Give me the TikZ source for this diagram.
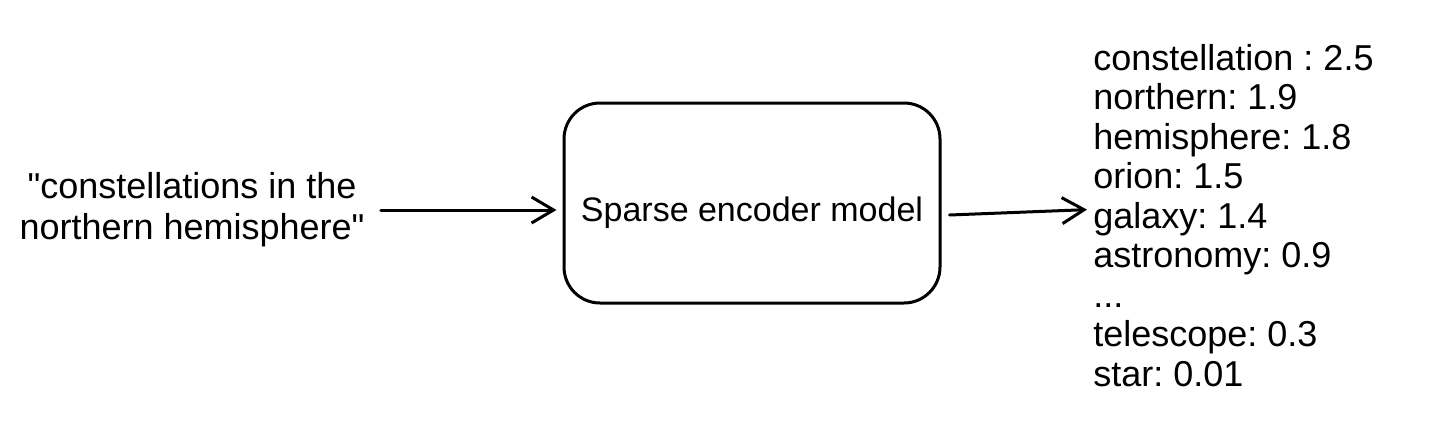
\documentclass[tikz,border=0pt]{standalone}
\usepackage{fontspec}
\newfontfamily\hand{Liberation Sans}
\usetikzlibrary{arrows.meta}
\begin{document}
\frenchspacing
\begin{tikzpicture}[x=0.5pt,y=-0.5pt,
  txt/.style={font=\hand\fontsize{18}{19.75}\selectfont, inner sep=0pt},
  boxtxt/.style={font=\hand\fontsize{17}{19.75}\selectfont, inner sep=0pt},
  arr/.style={line width=1.5pt, line cap=round, -{Straight Barb[length=11pt,width=13pt,line width=1.5pt]}},
  box/.style={draw, line width=1.5pt, rounded corners=18pt, minimum width=188pt, minimum height=100pt}]
\useasboundingbox (0,0) rectangle (1440,424);
\node[txt, align=center, font=\hand\fontsize{18}{20.5}\selectfont] (in) at (192,210) {"constellations in the\\northern hemisphere"};
\node[box] (enc) at (752,203) {};
\node[boxtxt] (enclbl) at ([yshift=-5pt]enc.center) {Sparse encoder model};
\node[txt, anchor=north west, align=left] (out) at (1093,44)
  {constellation : 2.5\\northern: 1.9\\hemisphere: 1.8\\orion: 1.5\\galaxy: 1.4\\astronomy: 0.9\\...\\telescope: 0.3\\star: 0.01};
\draw[arr, shorten <=8pt, shorten >=3pt] (in.east) -- (in.east -| enc.west);
\draw[arr] ([shift={(8,12)}]enc.east) -- ([shift={(-6,-6)}]out.west);
\end{tikzpicture}
\end{document}
